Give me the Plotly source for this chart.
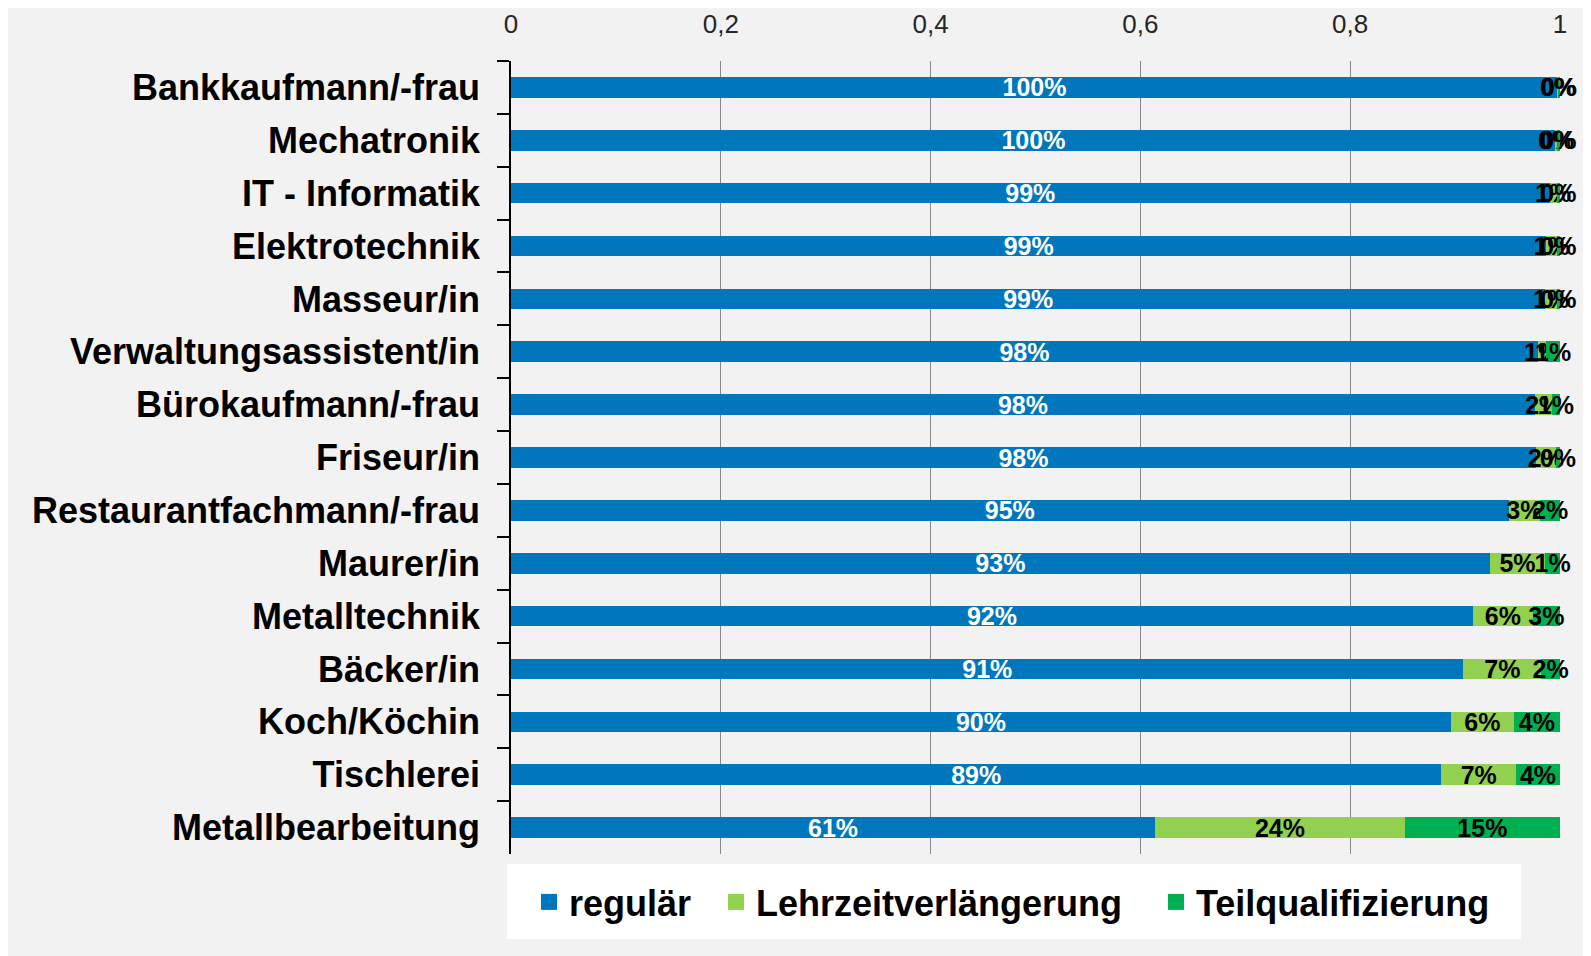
import plotly.graph_objects as go

categories = [
    "Bankkaufmann/-frau", "Mechatronik", "IT - Informatik", "Elektrotechnik",
    "Masseur/in", "Verwaltungsassistent/in", "Bürokaufmann/-frau", "Friseur/in",
    "Restaurantfachmann/-frau", "Maurer/in", "Metalltechnik", "Bäcker/in",
    "Koch/Köchin", "Tischlerei", "Metallbearbeitung",
]
regulaer = [0.998, 0.996, 0.990, 0.987, 0.986, 0.979, 0.976, 0.977,
            0.951, 0.933, 0.917, 0.908, 0.896, 0.887, 0.614]
lehrzeit = [0.001, 0.001, 0.007, 0.010, 0.011, 0.008, 0.016, 0.019,
            0.030, 0.053, 0.057, 0.074, 0.060, 0.071, 0.238]
teilqual = [0.001, 0.003, 0.003, 0.003, 0.003, 0.013, 0.008, 0.004,
            0.019, 0.014, 0.026, 0.018, 0.044, 0.042, 0.148]
series_names = ["regulär", "Lehrzeitverlängerung", "Teilqualifizierung"]
colors = ["#0077BD", "#92D050", "#00B050"]
label_colors = ["white", "black", "black"]
x_ticks = [0, 0.2, 0.4, 0.6, 0.8, 1.0]

W, H = 1591, 956
ML, MR, MT, MB = 503, 39, 53, 110
PW, PH = W - ML - MR, H - MT - MB


def px_x(p):
    return (p - ML) / PW


def px_y(p):
    return (H - MB - p) / PH


fig = go.Figure()
for name, vals, col, lc in zip(series_names, [regulaer, lehrzeit, teilqual], colors, label_colors):
    fig.add_trace(go.Bar(
        y=categories, x=vals, name=name, orientation="h", showlegend=False,
        marker=dict(color=col, line=dict(width=0)),
        texttemplate="%{x:.0%}", textposition="inside", insidetextanchor="middle",
        textangle=0, constraintext="none", cliponaxis=False,
        textfont=dict(family="Liberation Sans", size=25, color=lc, weight="bold"),
        hoverinfo="skip",
    ))

legend_keys = ["legend", "legend2", "legend3"]
legend_sym_x = [542, 729, 1169]
for name, col, lk in zip(series_names, colors, legend_keys):
    fig.add_trace(go.Scatter(
        x=[None], y=[None], mode="markers", name=name, legend=lk,
        marker=dict(symbol="square", size=20, color=col),
        hoverinfo="skip",
    ))

legend_common = dict(
    orientation="h", xanchor="left", y=px_y(894), yanchor="middle",
    bgcolor="rgba(0,0,0,0)", itemsizing="trace",
    font=dict(family="Liberation Sans", size=36, color="black", weight="bold"),
    itemclick=False, itemdoubleclick=False,
)

fig.update_layout(
    width=W, height=H,
    margin=dict(l=ML, r=MR, t=MT, b=MB, autoexpand=False),
    barmode="stack", bargap=0.61,
    separators=",.",
    paper_bgcolor="#F2F2F2", plot_bgcolor="rgba(0,0,0,0)",
    font=dict(family="Liberation Sans", color="black"),
    shapes=[
        dict(type="rect", xref="paper", yref="paper", layer="below",
             x0=px_x(499), x1=px_x(1513), y0=px_y(931), y1=px_y(856),
             fillcolor="white", line=dict(width=0)),
    ],
    legend=dict(x=px_x(legend_sym_x[0] - 21), **legend_common),
    legend2=dict(x=px_x(legend_sym_x[1] - 21), **legend_common),
    legend3=dict(x=px_x(legend_sym_x[2] - 21), **legend_common),
    xaxis=dict(
        side="top", range=[0, 1], tickvals=x_ticks, tickformat="~g",
        showgrid=True, gridcolor="#878787", gridwidth=1, zeroline=False,
        showline=False, ticks="", automargin=False,
        tickfont=dict(family="Liberation Sans", size=26, color="#262626"),
        ticklabelstandoff=22,
    ),
    yaxis=dict(
        autorange="reversed", tickson="boundaries", ticks="outside", ticklen=12,
        tickcolor="black", tickwidth=1.5, showline=True, linecolor="black", linewidth=1.5,
        showgrid=False, automargin=False,
        tickfont=dict(family="Liberation Sans", size=36, color="black", weight="bold"),
        ticklabelstandoff=22,
    ),
)

fig.write_html("out.html")
